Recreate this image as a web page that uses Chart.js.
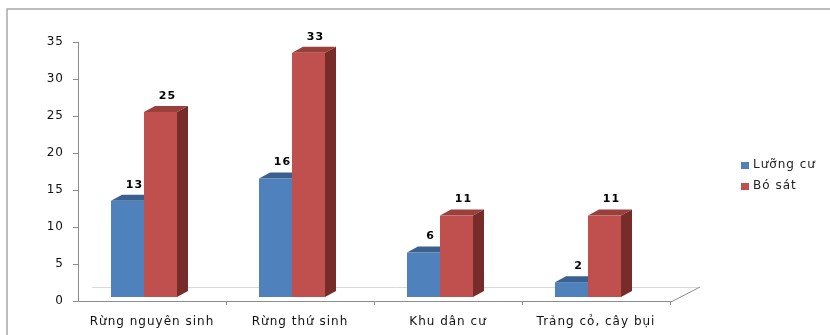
<!DOCTYPE html>
<html>
<head>
<meta charset="utf-8">
<script src="https://cdn.jsdelivr.net/npm/chart.js@4"></script>
<style>
  html, body { margin: 0; padding: 0; background: #fff; }
  canvas { display: block; }
</style>
</head>
<body>
<canvas id="grafico" width="830" height="335"></canvas>
<script>
// datos
const categorias = ["Rừng nguyên sinh", "Rừng thứ sinh", "Khu dân cư", "Trảng cỏ, cây bụi"];
const luongCu = [13, 16, 6, 2];
const boSat = [25, 33, 11, 11];
const tenSeries = ["Lưỡng cư", "Bó sát"];

const mauMat = ["#4F81BD", "#C0504D"];
const mauTren = ["#3A6090", "#99403D"];
const mauBen = ["#2F4E74", "#772C2A"];
const FONT = "'DejaVu Sans', Verdana, sans-serif";

// hiệu ứng 3D + trục vẽ tay
const ve3D = {
  id: "ve3D",
  beforeUpdate(chart) { chart.ctx.letterSpacing = "1px"; },
  beforeDraw(chart) {
    const ctx = chart.ctx;
    ctx.letterSpacing = "1px";
    ctx.save();
    ctx.strokeStyle = "#a8a8a8";
    ctx.lineWidth = 1.5;
    ctx.beginPath();
    ctx.moveTo(7, 335);
    ctx.lineTo(7, 9);
    ctx.lineTo(830, 9);
    ctx.stroke();
    ctx.restore();
  },
  beforeDatasetsDraw(chart) {
    const ctx = chart.ctx;
    const a = chart.chartArea;
    const xs = chart.scales.x, ys = chart.scales.y;
    const dx = 11, dy = -6, lechX = -8, lechY = -4;

    ctx.save();
    // sàn
    ctx.strokeStyle = "#d9d9d9";
    ctx.lineWidth = 1;
    ctx.beginPath();
    ctx.moveTo(a.left + 14, a.bottom - 13.5);
    ctx.lineTo(a.right + 29, a.bottom - 13.5);
    ctx.stroke();
    ctx.strokeStyle = "#8c8c8c";
    ctx.beginPath();
    ctx.moveTo(a.left + 0.5, ys.getPixelForValue(35));
    ctx.lineTo(a.left + 0.5, a.bottom + 0.5);
    ctx.lineTo(a.right + 2, a.bottom + 0.5);
    ctx.lineTo(a.right + 30, a.bottom - 14);
    ctx.stroke();
    ys.ticks.forEach(t => {
      const y = Math.round(ys.getPixelForValue(t.value)) + 0.5;
      ctx.beginPath();
      ctx.moveTo(a.left - 5, y);
      ctx.lineTo(a.left, y);
      ctx.stroke();
    });
    for (let i = 1; i <= categorias.length; i++) {
      const x = Math.round((xs.getPixelForValue(i - 1) + xs.getPixelForValue(i)) / 2) + 0.5;
      ctx.beginPath();
      ctx.moveTo(x, a.bottom);
      ctx.lineTo(x, a.bottom + 4);
      ctx.stroke();
    }

    // cột
    const metas = chart.data.datasets.map((d, i) => chart.getDatasetMeta(i));
    for (let j = 0; j < categorias.length; j++) {
      metas.forEach((m, k) => {
        const el = m.data[j];
        const l = el.x - el.width / 2 + lechX;
        const r = el.x + el.width / 2 + lechX;
        const t = el.y + lechY;
        const b = el.base + lechY;
        ctx.fillStyle = mauMat[k];
        ctx.fillRect(l, t, r - l, b - t);
        ctx.fillStyle = mauTren[k];
        ctx.beginPath();
        ctx.moveTo(l, t);
        ctx.lineTo(l + dx, t + dy);
        ctx.lineTo(r + dx, t + dy);
        ctx.lineTo(r, t);
        ctx.closePath();
        ctx.fill();
        ctx.fillStyle = mauBen[k];
        ctx.beginPath();
        ctx.moveTo(r, t);
        ctx.lineTo(r + dx, t + dy);
        ctx.lineTo(r + dx, b + dy);
        ctx.lineTo(r, b);
        ctx.closePath();
        ctx.fill();
      });
    }

    // nhãn giá trị
    ctx.fillStyle = "#000";
    ctx.font = "bold 11px " + FONT;
    ctx.textAlign = "center";
    ctx.textBaseline = "middle";
    metas.forEach((m, k) => {
      m.data.forEach((el, j) => {
        const v = chart.data.datasets[k].data[j];
        ctx.fillText(String(v), el.x + lechX + 7, el.y + lechY - 16);
      });
    });
    ctx.restore();
    return false;
  },
  afterDraw(chart) {
    // chú giải
    const ctx = chart.ctx;
    ctx.save();
    ctx.font = "12px " + FONT;
    ctx.textBaseline = "middle";
    ctx.textAlign = "left";
    tenSeries.forEach((ten, k) => {
      const y = 165 + k * 21;
      ctx.fillStyle = mauMat[k];
      ctx.fillRect(741, y - 3, 8, 7);
      ctx.fillStyle = "#222";
      ctx.fillText(ten, 753, y);
    });
    ctx.restore();
  }
};

const ctx = document.getElementById("grafico").getContext("2d");
new Chart(ctx, {
  type: "bar",
  data: {
    labels: categorias,
    datasets: [
      { label: tenSeries[0], data: luongCu, backgroundColor: mauMat[0] },
      { label: tenSeries[1], data: boSat, backgroundColor: mauMat[1] }
    ]
  },
  options: {
    responsive: false,
    animation: false,
    layout: { padding: { top: 42, right: 160, left: 0, bottom: 0 } },
    datasets: { bar: { categoryPercentage: 0.446, barPercentage: 1 } },
    plugins: { legend: { display: false }, tooltip: { enabled: false } },
    scales: {
      x: {
        grid: { display: false, drawTicks: false },
        border: { display: false },
        ticks: { color: "#111", font: { family: FONT, size: 12 }, padding: 14, maxRotation: 0 },
        afterFit: s => { s.height = 34; }
      },
      y: {
        min: 0, max: 35,
        grid: { display: false, drawTicks: false },
        border: { display: false },
        ticks: { stepSize: 5, color: "#111", font: { family: FONT, size: 12 }, padding: 14 },
        afterFit: s => { s.width = 78; }
      }
    }
  },
  plugins: [ve3D]
});
</script>
</body>
</html>
